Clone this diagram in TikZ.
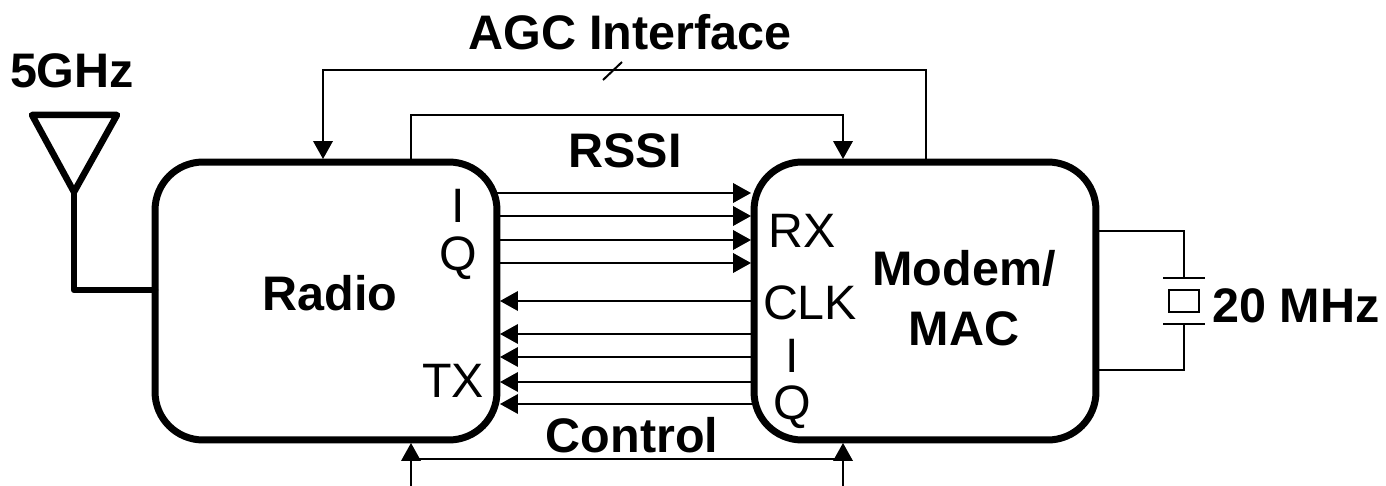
\documentclass[tikz,border=0pt]{standalone}
\usepackage{fontspec}
\setmainfont{Liberation Sans}
\usepackage{xcolor}
\usetikzlibrary{positioning, arrows.meta}
\begin{document}
\begin{tikzpicture}[
        x=0.02cm, y=-0.02cm,
        block/.style={rectangle, rounded corners=0.96cm, draw=black,
                line width=0.14cm, minimum width=6.84cm, minimum height=5.56cm,
                inner sep=0pt, outer sep=0pt},
        title/.style={font=\fontsize{27.6}{34}\selectfont\bfseries, align=center,
                inner sep=0pt},
        port/.style={font=\fontsize{27.5}{30}\selectfont, inner sep=0pt},
        arr/.style={-{Triangle[length=0.36cm, width=0.39cm]}, black, line width=0.04cm,
                shorten >=0.06cm},
        wire/.style={black, line width=0.04cm},
        thick wire/.style={black, line width=0.13cm, line join=round, line cap=round},
    ]
    \useasboundingbox (0,0) rectangle (1386,486);

    \node[block] (radio) at (326,301) {};
    \node[block] (modem) at (925,301) {};

    \node[title] (radioLabel) at (330,293) {Radio};
    \node[title] (modemLabel) at (964,298) {Modem/\\MAC};
    \node[title] (agcLabel) at (630,32) {AGC Interface};
    \node[title] (rssiLabel) at (625,151) {RSSI};
    \node[title] (controlLabel) at (632,435) {Control};
    \node[title] (ghzLabel) at (72,71) {5GHz};
    \node[title, anchor=west] (mhzLabel) at (1212,306) {20 MHz};

    \node[port] (radioI) at (458,206) {I};
    \node[port] (radioQ) at (458,258) {Q};
    \node[port] (radioTX) at (453,381) {TX};
    \node[port] (modemRX) at (802,231) {RX};
    \node[port] (modemCLK) at (810,303) {CLK};
    \node[port] (modemI) at (792,356) {I};
    \node[port] (modemQ) at (792,407) {Q};

    % data lines between the blocks
    \foreach \ypos in {193,216,240,263} {
        \draw[arr] (radio.east |- 0,\ypos) -- (modem.west |- 0,\ypos);
    }
    \foreach \ypos in {301,334,357,382,404} {
        \draw[arr] (modem.west |- 0,\ypos) -- (radio.east |- 0,\ypos);
    }

    % AGC and RSSI
    \coordinate (agcA) at (926,70);
    \coordinate (agcB) at (323,70);
    \draw[arr] (agcA |- modem.north) -- (agcA) -- (agcB) -- (agcB |- radio.north);
    \coordinate (slashA) at (603,80);
    \coordinate (slashB) at (622,62);
    \draw[wire] (slashA) -- (slashB);

    \coordinate (rssiA) at (411,115);
    \coordinate (rssiB) at (843,115);
    \draw[arr] (rssiA |- radio.north) -- (rssiA) -- (rssiB) -- (rssiB |- modem.north);

    % control bus
    \coordinate (ctrlA) at (411,486);
    \coordinate (ctrlB) at (843,486);
    \coordinate (ctrlC) at (411,459);
    \coordinate (ctrlD) at (843,459);
    \draw[arr] (ctrlA) -- (ctrlA |- radio.south);
    \draw[arr] (ctrlB) -- (ctrlB |- modem.south);
    \draw[wire] (ctrlC) -- (ctrlD);

    % antenna
    \coordinate (antL) at (32,115);
    \coordinate (antR) at (117,115);
    \coordinate (antT) at (74,192);
    \coordinate (antB) at (74,290);
    \draw[thick wire] (antL) -- (antR) -- (antT) -- cycle;
    \draw[thick wire] (antT) -- (antB) -- (antB -| radio.west);

    % crystal
    \node[draw=black, line width=0.04cm, minimum width=0.6cm, minimum height=0.46cm,
          inner sep=0pt, outer sep=0pt] (xtal) at (1184,301) {};
    \coordinate (xtalTL) at (1163,278);
    \coordinate (xtalTR) at (1205,278);
    \coordinate (xtalBL) at (1163,324);
    \coordinate (xtalBR) at (1205,324);
    \coordinate (xtalT) at (1184,231);
    \coordinate (xtalB) at (1184,370);
    \draw[wire] (xtalTL) -- (xtalTR);
    \draw[wire] (xtalBL) -- (xtalBR);
    \draw[wire] (modem.east |- xtalT) -- (xtalT) -- (xtalT |- xtalTL);
    \draw[wire] (modem.east |- xtalB) -- (xtalB) -- (xtalB |- xtalBL);
\end{tikzpicture}
\end{document}
